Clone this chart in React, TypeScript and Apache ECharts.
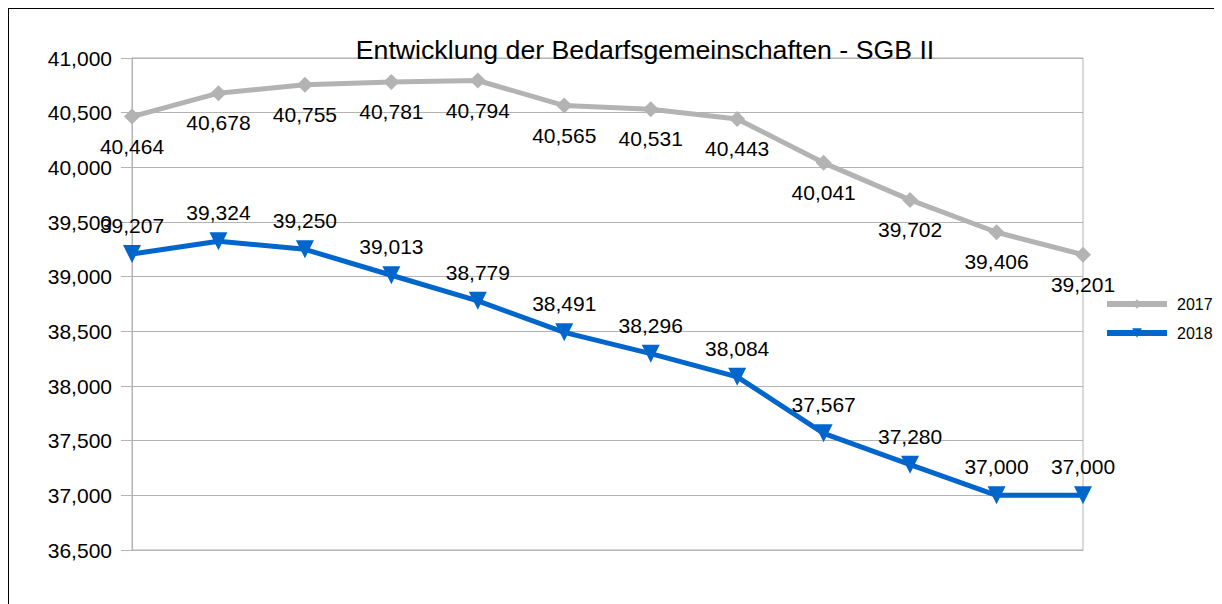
import React, { useEffect, useRef } from "react";
import * as echarts from "echarts";

const months = ["Jan", "Feb", "Mär", "Apr", "Mai", "Jun", "Jul", "Aug", "Sep", "Okt", "Nov", "Dez"];
const values2017 = [40464, 40678, 40755, 40781, 40794, 40565, 40531, 40443, 40041, 39702, 39406, 39201];
const values2018 = [39207, 39324, 39250, 39013, 38779, 38491, 38296, 38084, 37567, 37280, 37000, 37000];
const titleText = "Entwicklung der Bedarfsgemeinschaften - SGB II";

const fmt = (v: number) => v.toLocaleString("en-US");

export default function App() {
  const ref = useRef<HTMLDivElement>(null);
  useEffect(() => {
    if (!ref.current) return;
    const chart = echarts.init(ref.current, undefined, { renderer: "svg" });
    const font = "'Liberation Sans', Arial, sans-serif";
    chart.setOption({
      animation: false,
      textStyle: { fontFamily: font },
      title: {
        text: titleText,
        left: 640 - 9,
        textAlign: "center",
        top: 22,
        textStyle: { fontFamily: font, fontSize: 26.7, fontWeight: "normal", color: "#000" },
      },
      legend: {
        orient: "vertical",
        left: 1090,
        top: 282,
        itemWidth: 60,
        itemHeight: 12,
        itemGap: 13,
        lineStyle: { width: 6 },
        textStyle: { fontFamily: font, fontSize: 16, color: "#000", padding: [0, 0, 0, 5] },
        data: ["2017", "2018"],
      },
      grid: {
        left: 132 - 9,
        right: 1222 - 1083,
        top: 58 - 9,
        bottom: 604 - 550,
        show: true,
        borderColor: "#b3b3b3",
        borderWidth: 1,
      },
      xAxis: {
        type: "category",
        data: months,
        boundaryGap: false,
        axisLabel: { show: false },
        axisTick: { show: false },
        axisLine: { show: true, lineStyle: { color: "#b3b3b3" } },
        splitLine: { show: false },
      },
      yAxis: {
        type: "value",
        min: 36500,
        max: 41000,
        interval: 500,
        axisLine: { show: true, lineStyle: { color: "#b3b3b3" } },
        axisTick: { show: true, length: 11, lineStyle: { color: "#b3b3b3" } },
        axisLabel: {
          formatter: (v: number) => fmt(v),
          fontFamily: font,
          fontSize: 21,
          color: "#000",
          margin: 20,
        },
        splitLine: { show: true, lineStyle: { color: "#b3b3b3" } },
      },
      series: [
        {
          name: "2017",
          type: "line",
          data: values2017,
          color: "#b3b3b3",
          lineStyle: { width: 5, color: "#b3b3b3" },
          symbol: "diamond",
          symbolSize: 16,
          itemStyle: { color: "#b3b3b3" },
          label: {
            show: true,
            position: "bottom",
            distance: 11,
            formatter: (p: any) => fmt(p.value),
            fontFamily: font,
            fontSize: 21,
            color: "#000",
          },
        },
        {
          name: "2018",
          type: "line",
          data: values2018,
          color: "#0066cc",
          lineStyle: { width: 5, color: "#0066cc" },
          symbol: "triangle",
          symbolRotate: 180,
          symbolSize: 18,
          itemStyle: { color: "#0066cc" },
          label: {
            show: true,
            position: "top",
            distance: 9,
            formatter: (p: any) => fmt(p.value),
            fontFamily: font,
            fontSize: 21,
            color: "#000",
          },
        },
      ],
    });
    return () => chart.dispose();
  }, []);
  return (
    <div
      style={{
        width: 1214,
        height: 596,
        borderTop: "1px solid #000",
        borderLeft: "1px solid #000",
        boxSizing: "border-box",
        overflow: "hidden",
      }}
    >
      <div ref={ref} style={{ width: 1213, height: 595 }} />
    </div>
  );
}
